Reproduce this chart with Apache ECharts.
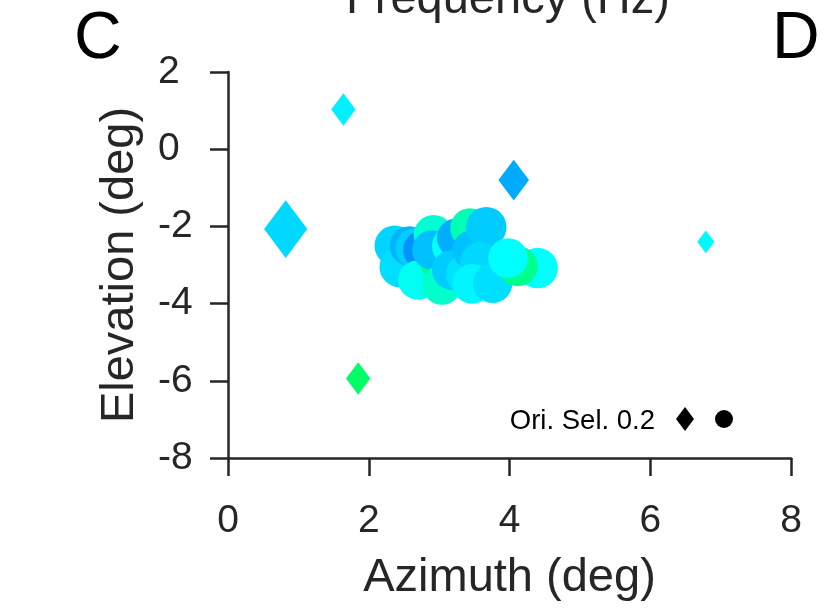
<!DOCTYPE html>
<html>
<head>
<meta charset="utf-8">
<script src="https://cdn.jsdelivr.net/npm/echarts@6/dist/echarts.min.js"></script>
<style>
  html, body { margin: 0; padding: 0; background: #ffffff; }
  #chart { width: 828px; height: 609px; }
</style>
</head>
<body>
<div id="chart"></div>
<script>
// Axis ticks
const xTicks = [0, 2, 4, 6, 8];
const yTicks = [-8, -6, -4, -2, 0, 2];

// Isolated sites, drawn as diamonds
const diamondAzimuth   = [0.82, 1.64, 4.06, 1.85, 6.79];
const diamondElevation = [-2.07, 1.03, -0.80, -5.94, -2.40];
const diamondFreqHz    = [1.69, 1.88, 1.33, 3.20, 1.95];
const diamondOriSel    = [0.48, 0.27, 0.34, 0.27, 0.19];

// Clustered sites, drawn as circles (in plotting order)
const circleAzimuth   = [2.37, 2.44, 2.58, 2.66, 2.77, 2.70, 2.92, 3.01, 2.90, 3.04, 3.18, 3.25,
                         3.18, 3.38, 3.44, 3.47, 3.67, 3.58, 3.47, 3.76, 4.40, 4.12, 3.98];
const circleElevation = [-2.50, -3.05, -2.51, -2.56, -2.61, -3.39, -2.22, -2.92, -2.61, -3.52, -2.51, -2.30,
                         -3.13, -3.23, -2.04, -2.61, -2.02, -2.92, -3.49, -3.47, -3.08, -3.03, -2.82];
const circleFreqHz    = [1.66, 1.75, 1.40, 1.63, 1.15, 2.10, 2.35, 3.00, 1.50, 2.40, 2.00, 1.36,
                         1.60, 1.78, 2.60, 1.52, 1.60, 1.69, 1.92, 1.75, 2.00, 2.90, 2.00];
const circleOriSel    = [0.45, 0.45, 0.44, 0.44, 0.44, 0.44, 0.44, 0.44, 0.44, 0.44, 0.44, 0.44,
                         0.44, 0.44, 0.44, 0.44, 0.45, 0.44, 0.44, 0.44, 0.45, 0.44, 0.44];

// Reference value shown in the size key
const keyOriSel = 0.2;
const keyLabel = 'Ori. Sel. 0.2';

// Colour scale for frequency
const freqMin = 0, freqMax = 8;
const freqColors = ['#0000ff', '#0080ff', '#00ffff', '#00ff80', '#00ff00',
                    '#80ff00', '#ffff00', '#ff8000', '#ff0000'];

// Marker size from orientation selectivity
const circleDiameter = os => 90 * os;
const diamondSize = os => [90 * os, 120 * os];

const FONT = '"Liberation Sans", Arial, Helvetica, sans-serif';
const INK = '#262626';

const diamondData = diamondAzimuth.map((x, i) => [x, diamondElevation[i], diamondFreqHz[i], diamondOriSel[i]]);
const circleData = circleAzimuth.map((x, i) => [x, circleElevation[i], circleFreqHz[i], circleOriSel[i]]);

const chart = echarts.init(document.getElementById('chart'), null, { renderer: 'canvas' });

function axisCommon(min, max) {
  return {
    type: 'value',
    min: min, max: max, interval: 2,
    axisLine: { show: true, onZero: false, lineStyle: { color: INK, width: 2.5 } },
    axisTick: { show: true, inside: false, length: 18, lineStyle: { color: INK, width: 2.5 } },
    splitLine: { show: false },
    nameLocation: 'middle',
    nameTextStyle: { fontFamily: FONT, fontSize: 47, color: INK }
  };
}

const kd = diamondSize(keyOriSel);
const kr = circleDiameter(keyOriSel) / 2;
const keyDiamondX = 685, keyCircleX = 724, keyY = 419;

chart.setOption({
  animation: false,
  backgroundColor: '#ffffff',
  grid: { left: 228, right: 37, top: 72, bottom: 151, containLabel: false, outerBoundsMode: 'none' },
  xAxis: Object.assign(axisCommon(xTicks[0], xTicks[xTicks.length - 1]), {
    name: 'Azimuth (deg)', nameGap: 97,
    axisLabel: { fontFamily: FONT, fontSize: 39, color: INK, margin: 44 }
  }),
  yAxis: Object.assign(axisCommon(yTicks[0], yTicks[yTicks.length - 1]), {
    name: 'Elevation (deg)', nameGap: 84,
    axisLabel: { fontFamily: FONT, fontSize: 39, color: INK, margin: 70, align: 'left' }
  }),
  visualMap: {
    type: 'continuous', show: false, dimension: 2,
    min: freqMin, max: freqMax, seriesIndex: [0, 1],
    inRange: { color: freqColors }
  },
  series: [
    {
      type: 'scatter', symbol: 'diamond',
      data: diamondData,
      symbolSize: v => diamondSize(v[3]),
      itemStyle: { opacity: 1 },
      emphasis: { disabled: true }
    },
    {
      type: 'scatter', symbol: 'circle',
      data: circleData,
      symbolSize: v => circleDiameter(v[3]),
      itemStyle: { opacity: 1 },
      emphasis: { disabled: true }
    }
  ],
  graphic: [
    { type: 'text', left: 74, top: 7,
      style: { text: 'C', fontFamily: FONT, fontSize: 66, fill: '#000000' } },
    { type: 'text', left: 772, top: 7,
      style: { text: 'D', fontFamily: FONT, fontSize: 66, fill: '#000000' } },
    { type: 'text', x: 508, y: -23,
      style: { text: 'Frequency (Hz)', fontFamily: FONT, fontSize: 47, fill: INK,
               textAlign: 'center', textVerticalAlign: 'top' } },
    { type: 'text', x: 655, y: keyY + 2,
      style: { text: keyLabel, fontFamily: FONT, fontSize: 27.5, fill: '#000000',
               textAlign: 'right', textVerticalAlign: 'middle' } },
    { type: 'polygon',
      shape: { points: [[keyDiamondX, keyY - kd[1] / 2], [keyDiamondX + kd[0] / 2, keyY],
                        [keyDiamondX, keyY + kd[1] / 2], [keyDiamondX - kd[0] / 2, keyY]] },
      style: { fill: '#000000' } },
    { type: 'circle', shape: { cx: keyCircleX, cy: keyY, r: kr }, style: { fill: '#000000' } }
  ]
});
</script>
</body>
</html>
